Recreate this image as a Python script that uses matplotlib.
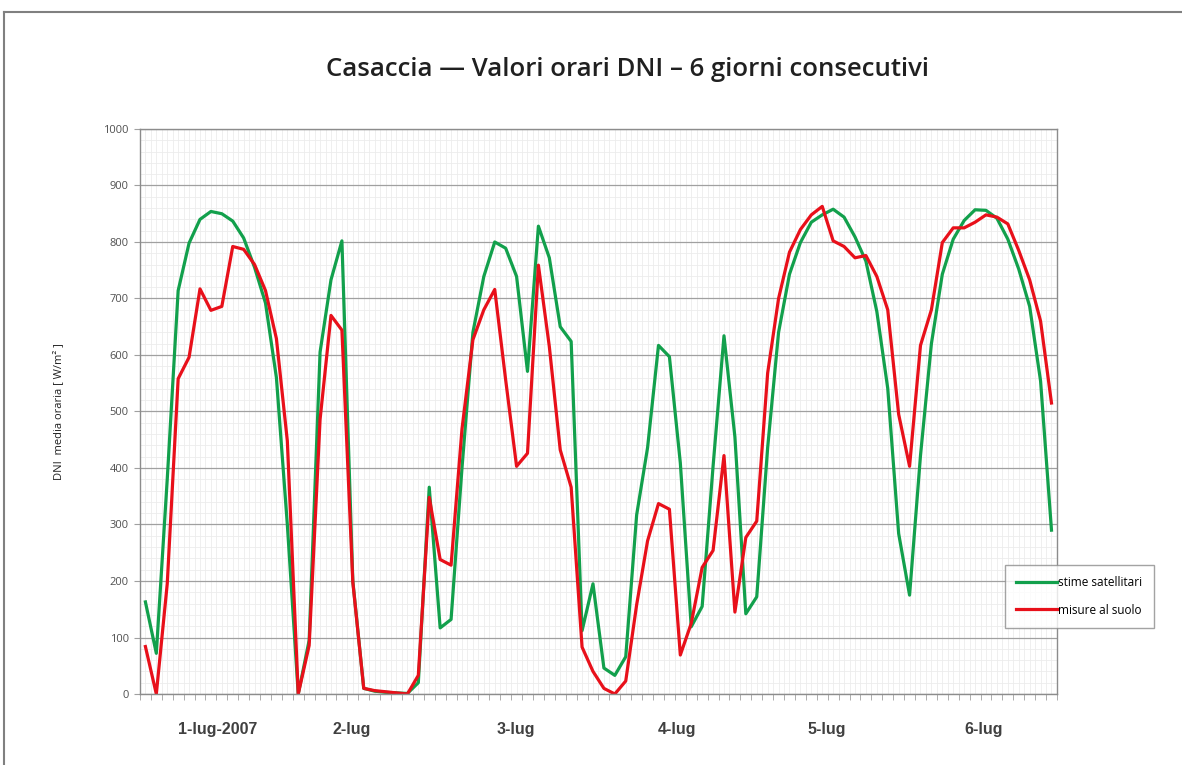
import matplotlib
matplotlib.use("Agg")
import matplotlib.pyplot as plt
import matplotlib.ticker as ticker
from matplotlib.lines import Line2D
import numpy as np

# hourly DNI values, 14 daylight hours per day, 6 days
stime_satellitari = [
    163, 72, 380, 714, 798, 840, 854, 850, 837, 807, 755, 692, 560, 300,
    0, 95, 605, 733, 802, 200, 10, 5, 3, 2, 1, 20, 366, 117,
    132, 400, 640, 739, 800, 789, 739, 571, 828, 772, 650, 624, 112, 195,
    46, 33, 66, 317, 436, 617, 597, 409, 119, 155, 403, 634, 455, 142,
    172, 436, 640, 743, 799, 835, 848, 858, 844, 809, 766, 677, 541, 284,
    175, 422, 620, 743, 805, 838, 857, 856, 842, 805, 752, 686, 554, 290,
]
misure_al_suolo = [
    84, 0, 195, 558, 596, 717, 679, 686, 792, 787, 760, 714, 629, 448,
    0, 86, 486, 670, 644, 198, 10, 6, 4, 2, 0, 33, 348, 238,
    228, 469, 627, 680, 716, 556, 403, 426, 759, 615, 432, 366, 83, 40,
    10, 0, 23, 158, 271, 337, 327, 69, 125, 224, 254, 422, 145, 277,
    306, 568, 700, 782, 822, 848, 863, 802, 792, 772, 776, 739, 680, 495,
    403, 617, 680, 799, 825, 825, 835, 848, 844, 832, 785, 733, 660, 515,
]
day_labels = ["1-lug-2007", "2-lug", "3-lug", "4-lug", "5-lug", "6-lug"]
day_label_pos = [6.6, 18.9, 33.9, 48.7, 62.4, 76.8]

ore = np.arange(len(stime_satellitari))

fig = plt.figure(figsize=(11.82, 7.65), dpi=100)
ax = fig.add_axes([0.1184, 0.0928, 0.7758, 0.7386])

# grid: fine light mesh plus darker major lines
ax.set_axisbelow(True)
ax.yaxis.set_major_locator(ticker.MultipleLocator(100))
ax.yaxis.set_minor_locator(ticker.MultipleLocator(20))
ax.xaxis.set_minor_locator(ticker.FixedLocator(np.arange(-0.5, len(ore), 1.0)))
ax.grid(which="minor", color="#ececec", lw=0.6)
ax.grid(which="major", axis="y", color="#a0a0a0", lw=0.9)
for xv in np.arange(0, len(ore), 1.0):
    ax.axvline(xv, color="#ececec", lw=0.6, zorder=0)

ax.plot(ore, stime_satellitari, color="#12a04c", lw=2.3, label="stime satellitari")
ax.plot(ore, misure_al_suolo, color="#e8101a", lw=2.3, label="misure al suolo")

ax.set_xlim(-0.5, len(ore) - 0.5)
ax.set_ylim(0, 1000)

ax.set_xticks(day_label_pos)
ax.set_xticklabels(day_labels, fontsize=11.5, fontweight="bold", color="#404040",
                   family=["Liberation Sans Narrow", "Liberation Sans", "DejaVu Sans"])
ax.tick_params(axis="x", which="major", length=0, pad=20)
ax.tick_params(axis="x", which="minor", length=4, color="#a0a0a0", direction="out")
ax.tick_params(axis="y", which="major", length=4, color="#a0a0a0", labelsize=8,
               labelcolor="#505050", pad=4)
ax.tick_params(axis="y", which="minor", length=0)
for lab in ax.get_yticklabels():
    lab.set_family(["Open Sans", "DejaVu Sans"])

for s in ax.spines.values():
    s.set_color("#8c8c8c")
    s.set_linewidth(1.0)

ax.set_ylabel("DNI  media oraria [ W/m² ]", fontsize=8, color="#202020",
              family=["Open Sans", "DejaVu Sans"], labelpad=28)

fig.text(0.531, 0.909, "Casaccia — Valori orari DNI – 6 giorni consecutivi",
         ha="center", va="center", fontsize=18.5, fontweight="semibold", color="#202020",
         family=["Open Sans", "DejaVu Sans"])

leg = fig.legend(loc="center", bbox_to_anchor=(0.9129, 0.2203),
                 frameon=True, fancybox=False, edgecolor="#8c8c8c",
                 handlelength=3.4, handletextpad=0.1, borderpad=1.0,
                 labelspacing=1.2, prop={"family": ["Open Sans", "DejaVu Sans"], "size": 8.5})
leg.get_frame().set_linewidth(1.0)

# outer chart frame
fig.add_artist(Line2D([0.0034, 0.0034], [0.0, 0.984], color="#808080", lw=1.5))
fig.add_artist(Line2D([0.0034, 1.0], [0.984, 0.984], color="#808080", lw=1.5))

plt.savefig("out.png", dpi=100)
